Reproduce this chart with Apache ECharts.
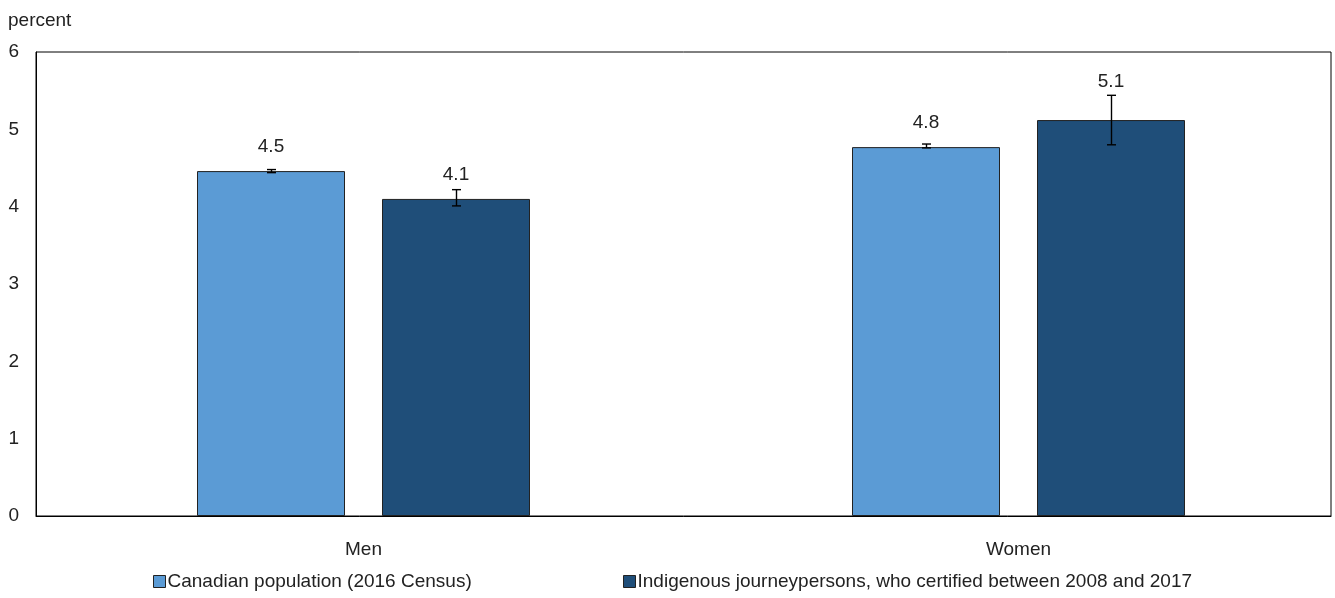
<!DOCTYPE html>
<html><head><meta charset="utf-8">
<script src="https://cdn.jsdelivr.net/npm/echarts@6/dist/echarts.min.js"></script>
<style>html,body{margin:0;padding:0;background:#fff}#c{width:1335px;height:598px}</style>
</head><body><div id="c"></div>
<script>
const categories = ['Men', 'Women'];
const seriesNames = ['Canadian population (2016 Census)', 'Indigenous journeypersons, who certified between 2008 and 2017'];
const canadian = [4.46, 4.77];
const indigenous = [4.10, 5.12];
const canadianLow = [4.44, 4.76];
const canadianHigh = [4.48, 4.81];
const indigenousLow = [4.01, 4.80];
const indigenousHigh = [4.22, 5.44];
const labelText = [['4.5', '4.8'], ['4.1', '5.1']];
const yTicks = [0, 1, 2, 3, 4, 5, 6];

const FONT = '"Liberation Sans", Arial, sans-serif';
const TXT = '#222';
const FS = 19;
const chart = echarts.init(document.getElementById('c'), null, {renderer: 'canvas'});
const BARW = 148, OFF = 92.5;
const labelDist = [[15, 15], [15, 29]];
const colors = ['#5b9bd5', '#1f4e79'];

function errSeries(low, high, sign) {
  return {
    type: 'custom',
    xAxisIndex: 1, yAxisIndex: 1,
    z: 5,
    silent: true,
    data: low.map((l, i) => [i, l, high[i]]),
    encode: {x: 0, y: [1, 2]},
    renderItem: function (params, api) {
      const x = api.value(0);
      const lo = api.coord([x, api.value(1)]);
      const hi = api.coord([x, api.value(2)]);
      const cx = Math.round(lo[0] + sign * OFF) + 0.5;
      const w = 4.5;
      const st = {stroke: '#000', lineWidth: 1.4};
      return {type: 'group', children: [
        {type: 'line', shape: {x1: cx, y1: lo[1], x2: cx, y2: hi[1]}, style: st},
        {type: 'line', shape: {x1: cx - w, y1: lo[1], x2: cx + w, y2: lo[1]}, style: st},
        {type: 'line', shape: {x1: cx - w, y1: hi[1], x2: cx + w, y2: hi[1]}, style: st}
      ]};
    }
  };
}

function barData(vals, s) {
  return vals.map((v, i) => ({value: v, label: {distance: labelDist[s][i], formatter: labelText[s][i]}}));
}

function legendFor(i, left) {
  return {
    left: left, top: 567, itemWidth: 12, itemHeight: 12, icon: 'rect',
    textStyle: {fontFamily: FONT, fontSize: FS, color: TXT, padding: [0, 0, 0, -3]},
    selectedMode: false,
    data: [{name: seriesNames[i], itemStyle: {color: colors[i], borderColor: '#222', borderWidth: 1}}]
  };
}

chart.setOption({
  animation: false,
  textStyle: {fontFamily: FONT},
  grid: [
    {left: 36, right: 4, top: 52, bottom: 82, show: true, borderColor: '#000', borderWidth: 1, backgroundColor: 'transparent', outerBoundsMode: 'none'},
    {left: 36, right: -11, top: 52, bottom: 82, outerBoundsMode: 'none', containLabel: false}
  ],
  legend: [legendFor(0, 148), legendFor(1, 618)],
  xAxis: [
    {gridIndex: 0, type: 'category', data: categories,
     axisLine: {lineStyle: {color: '#000'}}, axisTick: {show: false}, axisLabel: {show: false}},
    {gridIndex: 1, type: 'category', data: categories,
     axisLine: {show: false}, axisTick: {show: false},
     axisLabel: {fontFamily: FONT, fontSize: FS, color: TXT, margin: 24}}
  ],
  yAxis: [
    {gridIndex: 0, type: 'value', min: 0, max: 6, interval: 1,
     name: 'percent', nameLocation: 'end', nameGap: 22,
     nameTextStyle: {fontFamily: FONT, fontSize: FS, color: TXT, align: 'left', padding: [0, 0, 0, -28]},
     axisLine: {show: true, lineStyle: {color: '#000'}},
     axisTick: {show: false}, splitLine: {show: false},
     axisLabel: {fontFamily: FONT, fontSize: FS, color: TXT, margin: 17, formatter: v => yTicks.includes(v) ? String(v) : ''}},
    {gridIndex: 1, type: 'value', min: 0, max: 6, interval: 1, show: false, splitLine: {show: false}}
  ],
  series: [
    {name: seriesNames[0], type: 'bar', xAxisIndex: 1, yAxisIndex: 1, barWidth: BARW, barGap: '25%', data: barData(canadian, 0),
     itemStyle: {color: colors[0], borderColor: '#222', borderWidth: 1},
     label: {show: true, position: 'top', fontFamily: FONT, fontSize: FS, color: TXT}},
    {name: seriesNames[1], type: 'bar', xAxisIndex: 1, yAxisIndex: 1, barWidth: BARW, barGap: '25%', data: barData(indigenous, 1),
     itemStyle: {color: colors[1], borderColor: '#222', borderWidth: 1},
     label: {show: true, position: 'top', fontFamily: FONT, fontSize: FS, color: TXT}},
    errSeries(canadianLow, canadianHigh, -1),
    errSeries(indigenousLow, indigenousHigh, 1)
  ]
});
</script></body></html>
